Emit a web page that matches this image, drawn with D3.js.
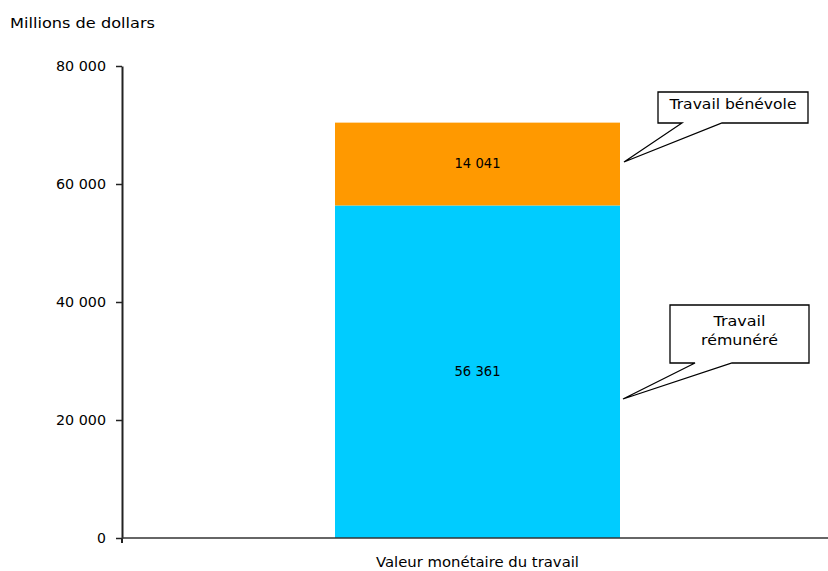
<!DOCTYPE html>
<html>
<head>
<meta charset="utf-8">
<script src="https://cdn.jsdelivr.net/npm/d3@7"></script>
<style>
  html, body { margin: 0; padding: 0; background: #fff; }
  svg text { font-family: "DejaVu Sans", Verdana, sans-serif; font-size: 14px; fill: #000; }
</style>
</head>
<body>
<svg id="chart" width="828" height="571"></svg>
<script>
// Valeur monétaire du travail (millions de dollars)
const categories = ["Valeur monétaire du travail"];
const seriesNames = ["Travail rémunéré", "Travail bénévole"];
const paidValues = [56361];
const volunteerValues = [14041];
const seriesColors = ["#00CCFF", "#FF9900"];
const yTicks = [0, 20000, 40000, 60000, 80000];
const yTitle = "Millions de dollars";

const svg = d3.select("#chart");
const W = 828, H = 571;
const plotLeft = 122, plotBottom = 538, plotTop = 66;

const x = d3.scaleBand().domain(categories).range([plotLeft, 833]).paddingInner(0).paddingOuter(0.2);
const y = d3.scaleLinear().domain([0, 80000]).range([plotBottom, plotTop]);

const fmt = v => d3.format(",")(v).replace(/,/g, " ");

// stacked data
const rows = categories.map((c, i) => ({ cat: c, paid: paidValues[i], volunteer: volunteerValues[i] }));
const stack = d3.stack().keys(["paid", "volunteer"])(rows);

const barW = 285;
const barX = c => x(c) + x.bandwidth() / 2 - barW / 2;

const layers = svg.append("g").selectAll("g").data(stack).join("g")
  .attr("fill", (d, i) => seriesColors[i]);
layers.selectAll("rect").data(d => d).join("rect")
  .attr("x", d => barX(d.data.cat))
  .attr("width", barW)
  .attr("y", d => y(d[1]))
  .attr("height", d => y(d[0]) - y(d[1]));

// value labels inside segments
layers.selectAll("text").data(d => d).join("text")
  .attr("x", d => barX(d.data.cat) + barW / 2)
  .attr("y", d => (y(d[0]) + y(d[1])) / 2 + 4)
  .attr("text-anchor", "middle")
  .attr("textLength", 46).attr("lengthAdjust", "spacingAndGlyphs")
  .style("font-weight", "500")
  .text(d => fmt(d[1] - d[0]));

// y axis
const yAxis = svg.append("g").attr("transform", `translate(${plotLeft},0)`)
  .call(d3.axisLeft(y).tickValues(yTicks).tickSize(6).tickSizeOuter(0).tickPadding(10).tickFormat(fmt));
yAxis.select(".domain").attr("stroke", "#222").attr("stroke-width", 2);
yAxis.selectAll(".tick line").attr("stroke", "#222").attr("stroke-width", 1.5);
yAxis.selectAll("text")
  .style("font-family", "'DejaVu Sans', Verdana, sans-serif").style("font-size", "14px")
  .attr("fill", "#000")
  .each(function (d) { if (d !== 0) d3.select(this).attr("textLength", 50).attr("lengthAdjust", "spacingAndGlyphs"); });

// extend the axis slightly below zero
svg.append("line").attr("x1", plotLeft).attr("x2", plotLeft)
  .attr("y1", y(0)).attr("y2", y(0) + 5).attr("stroke", "#222").attr("stroke-width", 2);

// x axis baseline
svg.append("line").attr("x1", plotLeft).attr("x2", W)
  .attr("y1", y(0)).attr("y2", y(0)).attr("stroke", "#333").attr("stroke-width", 1.6);

// category label
svg.append("text").attr("x", x(categories[0]) + x.bandwidth() / 2).attr("y", 567)
  .attr("text-anchor", "middle")
  .attr("textLength", 203).attr("lengthAdjust", "spacingAndGlyphs")
  .text(categories[0]);

// y title
svg.append("text").attr("x", 10).attr("y", 28)
  .attr("textLength", 145).attr("lengthAdjust", "spacingAndGlyphs")
  .text(yTitle);

// callouts
function callout(box, base, tip, lines, widths) {
  const g = svg.append("g");
  const { x0, y0, x1, y1 } = box;
  const pts = [[x0, y0], [x1, y0], [x1, y1], [base[1], y1], tip, [base[0], y1], [x0, y1]];
  g.append("path").attr("d", "M" + pts.map(p => p.join(",")).join("L") + "Z")
    .attr("fill", "#fff").attr("stroke", "#000").attr("stroke-width", 1.3);
  const cx = (x0 + x1) / 2;
  const lh = 19;
  const startY = (y0 + y1) / 2 - (lines.length - 1) * lh / 2 + 1;
  lines.forEach((t, i) => {
    g.append("text").attr("x", cx).attr("y", startY + i * lh)
      .attr("text-anchor", "middle")
      .attr("textLength", widths[i]).attr("lengthAdjust", "spacingAndGlyphs")
      .text(t);
  });
}

const cat = categories[0];
const rightEdge = barX(cat) + barW;
callout({ x0: 658, y0: 92, x1: 808, y1: 123 }, [682, 722],
  [rightEdge + 4, 162], [seriesNames[1]], [127]);
callout({ x0: 670, y0: 305, x1: 809, y1: 363 }, [695, 732],
  [rightEdge + 3, 399], ["Travail", "rémunéré"], [52, 77]);
</script>
</body>
</html>
